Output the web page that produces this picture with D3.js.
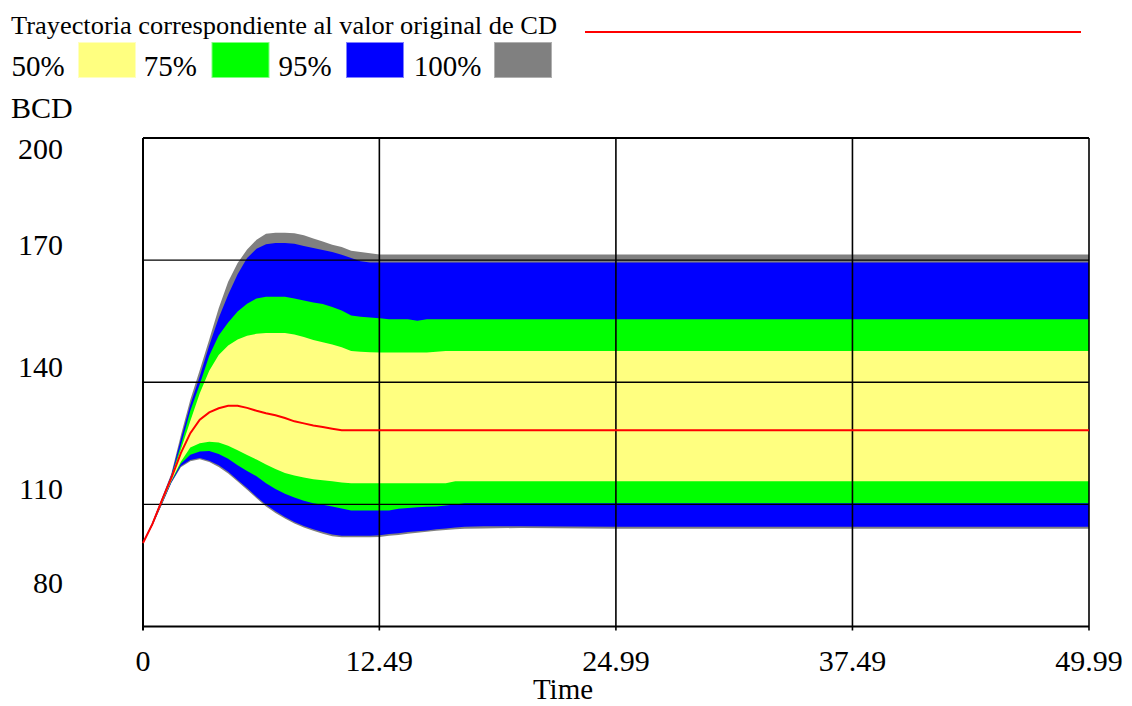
<!DOCTYPE html>
<html>
<head>
<meta charset="utf-8">
<script src="https://cdn.jsdelivr.net/npm/d3@7"></script>
<style>
  body { margin: 0; background: #fff; }
  svg { display: block; }
  text { font-family: "Liberation Serif", "Times New Roman", serif; fill: #000; }
</style>
</head>
<body>
<svg width="1132" height="706"></svg>
<script>
// time steps
const times = [0, 0.5, 1, 1.5, 2, 2.5, 3, 3.5, 4, 4.5, 5, 5.5, 6, 6.5, 7, 7.5, 8, 8.5, 9, 9.5,
  10, 10.5, 11, 11.5, 12, 12.5, 13, 13.5, 14, 14.5, 15, 15.5, 16, 16.5, 17, 18, 20, 25, 30, 40, 49.99];

// trajectory for the original CD value
const base = [100.5, 105.2, 111, 116.5, 122.6, 127.5, 130.8, 132.6, 133.6, 134.2, 134.2, 133.7, 133, 132.4, 131.9, 131.2, 130.4, 129.9, 129.4, 129,
  128.6, 128.2, 128.2, 128.2, 128.2, 128.2, 128.2, 128.2, 128.2, 128.2, 128.2, 128.2, 128.2, 128.2, 128.2, 128.2, 128.2, 128.2, 128.2, 128.2, 128.2];

// confidence bounds (upper / lower)
const hi100 = [100.5, 105.7, 111.6, 117.6, 127, 135.7, 143, 150.5, 158.2, 164.7, 169.3, 172.6, 175, 176.5, 176.7, 176.7, 176.6, 176.1, 175.3, 174.6,
  173.8, 173.2, 172.3, 172, 171.7, 171.4, 171.4, 171.4, 171.4, 171.4, 171.4, 171.4, 171.4, 171.4, 171.4, 171.4, 171.4, 171.4, 171.4, 171.4, 171.4];
const hi95 = [100.5, 105.6, 111.4, 117.3, 126, 134.5, 141.5, 149, 155.8, 161.5, 166.5, 170.5, 172.8, 173.9, 174.2, 174.2, 174, 173.5, 173, 172.5,
  172, 171.3, 170.5, 169.7, 169.4, 169.4, 169.4, 169.4, 169.4, 169.4, 169.4, 169.4, 169.4, 169.4, 169.4, 169.4, 169.4, 169.4, 169.4, 169.4, 169.4];
const hi75 = [100.5, 105.5, 111.2, 117, 124.5, 133, 139.5, 146.5, 151.5, 154.7, 157.4, 159.3, 160.6, 161, 161, 161, 160.6, 160.1, 159.6, 159.2,
  158.5, 157.6, 156.4, 156.1, 155.9, 155.7, 155.5, 155.5, 155.5, 155.1, 155.5, 155.5, 155.5, 155.5, 155.5, 155.5, 155.5, 155.5, 155.5, 155.5, 155.5];
const hi50 = [100.5, 105.4, 111.1, 116.8, 123.5, 130.5, 137.3, 142.8, 146.7, 149, 150.5, 151.4, 151.9, 152.1, 152.1, 152.1, 151.7, 151.1, 150.4, 149.8,
  149.3, 148.6, 147.7, 147.5, 147.4, 147.3, 147.3, 147.3, 147.3, 147.3, 147.3, 147.5, 147.7, 147.7, 147.7, 147.7, 147.7, 147.7, 147.7, 147.7, 147.7];
const lo50 = [100.5, 105.1, 110.4, 115.8, 120.5, 124, 125, 125.4, 125.2, 124.4, 123.3, 122.1, 121, 119.8, 118.7, 117.7, 117.1, 116.6, 116.2, 115.9,
  115.7, 115.4, 115.2, 115.2, 115.2, 115.2, 115.2, 115.2, 115.2, 115.2, 115.2, 115.2, 115.2, 115.7, 115.7, 115.7, 115.7, 115.7, 115.7, 115.7, 115.7];
const lo75 = [100.5, 105, 110.3, 115.6, 120, 122.2, 123, 123.1, 122.4, 121.2, 119.6, 118.2, 116.9, 115.2, 113.8, 112.6, 111.7, 110.9, 110.3, 109.9,
  109.5, 109, 108.5, 108.5, 108.5, 108.5, 108.5, 108.9, 109.1, 109.3, 109.4, 109.5, 109.7, 110, 110.3, 110.3, 110.3, 110.3, 110.3, 110.3, 110.3];
const lo95 = [100.5, 104.9, 110.1, 115.4, 119.4, 120.9, 121.4, 120.7, 119.6, 118, 116, 114, 111.9, 109.9, 108.3, 106.9, 105.7, 104.7, 103.9, 103.2,
  102.6, 102.3, 102.3, 102.3, 102.3, 102.4, 102.7, 102.9, 103.2, 103.4, 103.6, 103.9, 104.1, 104.3, 104.5, 104.6, 104.6, 104.5, 104.5, 104.5, 104.5];
const lo100 = [100.5, 104.8, 110, 115.3, 119.1, 120.6, 121.1, 120.4, 119.2, 117.6, 115.6, 113.6, 111.5, 109.5, 107.9, 106.5, 105.3, 104.3, 103.5, 102.8,
  102.2, 101.9, 101.9, 101.9, 101.9, 102, 102.3, 102.5, 102.8, 103, 103.3, 103.5, 103.7, 103.9, 104, 104.1, 104.2, 104, 104, 104, 104];

const xTicks = [0, 12.49, 24.99, 37.49, 49.99];
const yTicks = [200, 170, 140, 110, 80];

const bandNames = ["50%", "75%", "95%", "100%"];
const bandColors = ["#ffff80", "#00ff00", "#0000ff", "#808080"];
const bandEdges = ["#ffffc0", "#80ff80", "#8080ff", "#b0b0b0"];

const svg = d3.select("svg");

// prettier-ignore
const x = d3.scaleLinear()
    .domain([0, 49.99])
    .range([143, 1089])

// prettier-ignore
const y = d3.scaleLinear()
    .domain([80, 200])
    .range([626.5, 138])

const rows = times.map((t, i) => ({
  t,
  base: base[i],
  b: [[lo50[i], hi50[i]], [lo75[i], hi75[i]], [lo95[i], hi95[i]], [lo100[i], hi100[i]]]
}));

const area = (k) => d3.area()
  .x(d => x(d.t))
  .y0(d => y(d.b[k][0]))
  .y1(d => y(d.b[k][1]));

// widest band first so the narrow ones sit on top
[3, 2, 1, 0].forEach(k => {
  svg.append("path")
    .datum(rows)
    .attr("fill", bandColors[k])
    .attr("d", area(k));
});

// grid + frame
const grid = svg.append("g").attr("stroke", "#000");
yTicks.filter(v => v > 80 && v < 200).forEach(v => {
  grid.append("line")
    .attr("x1", x(0)).attr("x2", x(49.99))
    .attr("y1", y(v)).attr("y2", y(v))
    .attr("stroke-width", 1.4);
});
xTicks.forEach(v => {
  grid.append("line")
    .attr("x1", x(v)).attr("x2", x(v))
    .attr("y1", y(200)).attr("y2", y(80) + 4)
    .attr("stroke-width", v === 0 ? 2 : 1.6);
});
grid.append("line")
  .attr("x1", x(0)).attr("x2", x(49.99))
  .attr("y1", y(200)).attr("y2", y(200))
  .attr("stroke-width", 2);
grid.append("line")
  .attr("x1", x(0)).attr("x2", x(49.99))
  .attr("y1", y(80)).attr("y2", y(80))
  .attr("stroke-width", 2);

// red trajectory
svg.append("path")
  .datum(rows)
  .attr("fill", "none")
  .attr("stroke", "#ff0000")
  .attr("stroke-width", 2)
  .attr("d", d3.line().x(d => x(d.t)).y(d => y(d.base)));

// y tick labels (Vensim pulls them up and keeps them inside the frame)
yTicks.forEach(v => {
  const ly = Math.max(148, Math.min(582, y(v) - 16));
  svg.append("text")
    .attr("x", 63).attr("y", ly)
    .attr("dy", "0.35em")
    .attr("text-anchor", "end")
    .attr("font-size", 30)
    .text(v);
});

// x tick labels
xTicks.forEach(v => {
  svg.append("text")
    .attr("x", x(v)).attr("y", 660)
    .attr("dy", "0.35em")
    .attr("text-anchor", "middle")
    .attr("font-size", 30)
    .text(v);
});

svg.append("text")
  .attr("x", 563).attr("y", 699)
  .attr("text-anchor", "middle")
  .attr("font-size", 29)
  .text("Time");

svg.append("text")
  .attr("x", 11).attr("y", 118)
  .attr("font-size", 30)
  .text("BCD");

// legend
svg.append("text")
  .attr("x", 11).attr("y", 34)
  .attr("font-size", 25)
  .attr("textLength", 546)
  .attr("lengthAdjust", "spacingAndGlyphs")
  .text("Trayectoria correspondiente al valor original de CD");

svg.append("line")
  .attr("x1", 585).attr("x2", 1081)
  .attr("y1", 32).attr("y2", 32)
  .attr("stroke", "#ff0000")
  .attr("stroke-width", 2);

const legendX = [11.5, 143.7, 278.5, 413.8];
const swatchX = [78, 211.5, 346, 494];
bandNames.forEach((name, k) => {
  svg.append("text")
    .attr("x", legendX[k]).attr("y", 76)
    .attr("font-size", 29)
    .text(name);
  svg.append("rect")
    .attr("x", swatchX[k] + 0.5).attr("y", 42.5)
    .attr("width", 57).attr("height", 35)
    .attr("fill", bandColors[k])
    .attr("stroke", bandEdges[k])
    .attr("stroke-width", 1);
});
</script>
</body>
</html>
